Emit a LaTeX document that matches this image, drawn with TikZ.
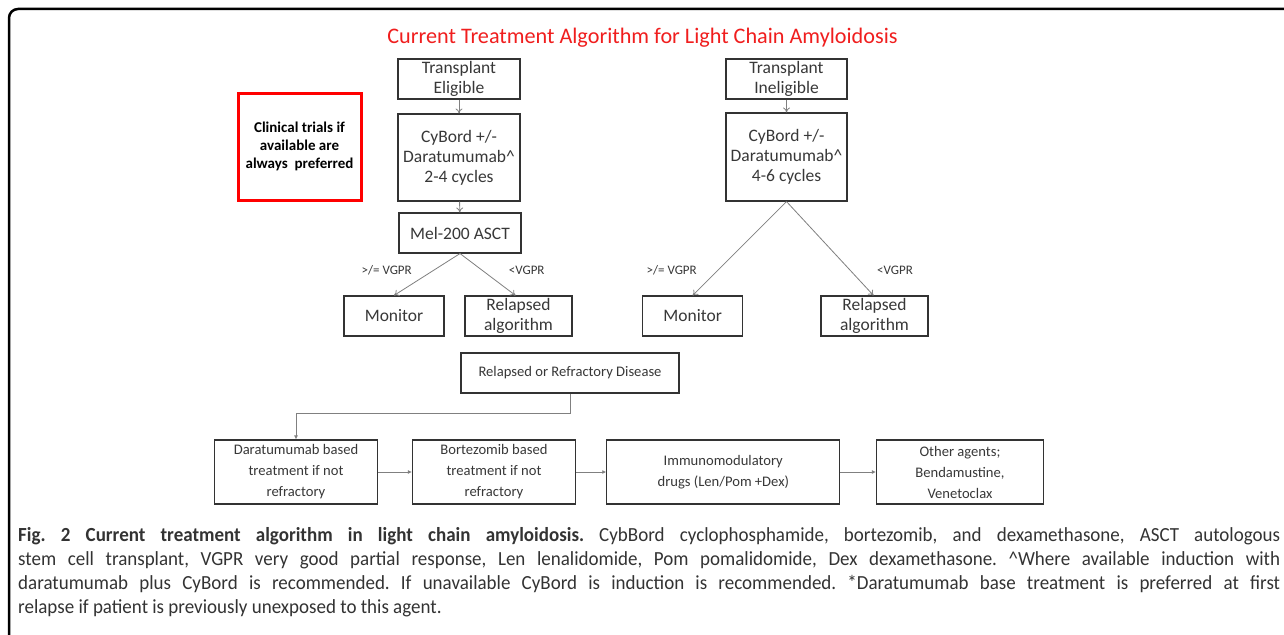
\documentclass[tikz,border=0pt]{standalone}
\usepackage{fontspec}
\setmainfont{Carlito}
\newfontfamily\capfont[FakeStretch=0.95]{Carlito}
\usetikzlibrary{arrows.meta,positioning,calc}
\definecolor{boxline}{gray}{0.2}
\definecolor{conn}{gray}{0.5}
\definecolor{txt}{gray}{0.22}
\definecolor{titlered}{RGB}{240,30,30}
\tikzset{
  topbox/.style={draw=boxline, line width=1.1pt, minimum width=#1, inner sep=0pt, align=center, text=txt,
     font=\fontsize{17.5}{20}\selectfont},
  botbox/.style={draw=boxline, line width=1.1pt, minimum width=#1, minimum height=64pt, inner sep=0pt, align=center, text=txt,
     font=\fontsize{14.6}{21}\selectfont},
  redbox/.style={draw=red, line width=3pt, minimum width=123pt, minimum height=107pt, align=center,
     font=\fontsize{15}{18}\selectfont\bfseries},
  lbl/.style={font=\fontsize{13}{15}\selectfont, text=txt, inner sep=0pt},
  conarrow/.style={draw=conn, line width=0.8pt, -{To[length=5pt,width=7pt]}},
  flowarrow/.style={draw=conn, line width=0.8pt, -{Latex[length=4pt,width=4pt]}},
  capline/.style={anchor=base west, inner sep=0pt, font=\capfont\fontsize{20}{24}\selectfont\frenchspacing, text=black!80}
}
\begin{document}
\begin{tikzpicture}[x=1pt,y=-1pt]
\useasboundingbox (0,0) rectangle (1284,634);
\fill[white] (0,0) rectangle (1284,634);
% outer frame
\draw[line width=2.5pt, rounded corners=9pt] (1295,9) -- (9,9) -- (9,645);

% title
\node[text=titlered, font=\fontsize{22.2}{26}\selectfont] (title) at (642.5,38) {Current Treatment Algorithm for Light Chain Amyloidosis};

% red box
\node[redbox] (trials) at (299.5,146.5) {Clinical trials if\\available are\\always\ \ preferred};

% left column
\node[topbox=122pt, minimum height=40pt] (te) at (459,79) {Transplant\\Eligible};
\node[topbox=122pt, minimum height=87pt] (cy1) at (459,157.5) {CyBord +/-\\Daratumumab\^{}\\2-4 cycles};
\node[topbox=122pt, minimum height=40pt] (mel) at (460,233) {Mel-200 ASCT};
\node[topbox=100pt, minimum height=40pt] (mon1) at (394,316) {Monitor};
\node[topbox=107pt, minimum height=40pt] (rel1) at (518.5,316) {Relapsed\\algorithm};

% right column
\node[topbox=121pt, minimum height=40pt] (ti) at (786.5,79) {Transplant\\Ineligible};
\node[topbox=121pt, minimum height=88pt] (cy2) at (786.5,157) {CyBord +/-\\Daratumumab\^{}\\4-6 cycles};
\node[topbox=100pt, minimum height=40pt] (mon2) at (692.7,316) {Monitor};
\node[topbox=107pt, minimum height=40pt] (rel2) at (874.5,316) {Relapsed\\algorithm};

% labels
\node[lbl] (l1) at (386.7,270.7) {>/= VGPR};
\node[lbl] (l2) at (526.7,270.7) {<VGPR};
\node[lbl] (l3) at (671.7,270.7) {>/= VGPR};
\node[lbl] (l4) at (895,270.7) {<VGPR};

% connectors top
\draw[conarrow] (te) -- (cy1);
\draw[conarrow] (cy1) -- (mel);
\draw[conarrow] (mel.south) -- (mon1.north);
\draw[conarrow] (mel.south) -- ($(rel1.north)+(-3,0)$);
\draw[conarrow] (ti) -- (cy2);
\draw[conarrow] (cy2.south) -- (mon2.north);
\draw[conarrow] (cy2.south) -- ($(rel2.north)+(-1,0)$);

% relapsed / refractory
\node[botbox=218pt, minimum height=40pt] (rrd) at (570,373) {Relapsed or Refractory Disease};
\node[botbox=163pt] (d1) at (296,472) {Daratumumab based\\treatment if not\\refractory};
\node[botbox=163pt] (d2) at (494,472) {Bortezomib based\\treatment if not\\refractory};
\node[botbox=233pt] (d3) at (723.3,472) {Immunomodulatory\\drugs (Len/Pom +Dex)};
\node[botbox=167pt] (d4) at (960,472) {Other agents;\\Bendamustine,\\Venetoclax};

\draw[flowarrow] (rrd.south) -- ++(0,20) -| (d1.north);
\draw[flowarrow] (d1) -- (d2);
\draw[flowarrow] (d2) -- (d3);
\draw[flowarrow] (d3) -- (d4);

% caption
\node[capline] (c1) at (18,541) {\makebox[1262pt][s]{\textbf{Fig. 2 Current treatment algorithm in light chain amyloidosis.} CybBord cyclophosphamide, bortezomib, and dexamethasone, ASCT autologous}};
\node[capline] (c2) at (18,565) {\makebox[1262pt][s]{stem cell transplant, VGPR very good partial response, Len lenalidomide, Pom pomalidomide, Dex dexamethasone. \^{}Where available induction with}};
\node[capline] (c3) at (18,589) {\makebox[1262pt][s]{daratumumab plus CyBord is recommended. If unavailable CyBord is induction is recommended. *Daratumumab base treatment is preferred at first}};
\node[capline] (c4) at (18,613) {relapse if patient is previously unexposed to this agent.};
\end{tikzpicture}
\end{document}
